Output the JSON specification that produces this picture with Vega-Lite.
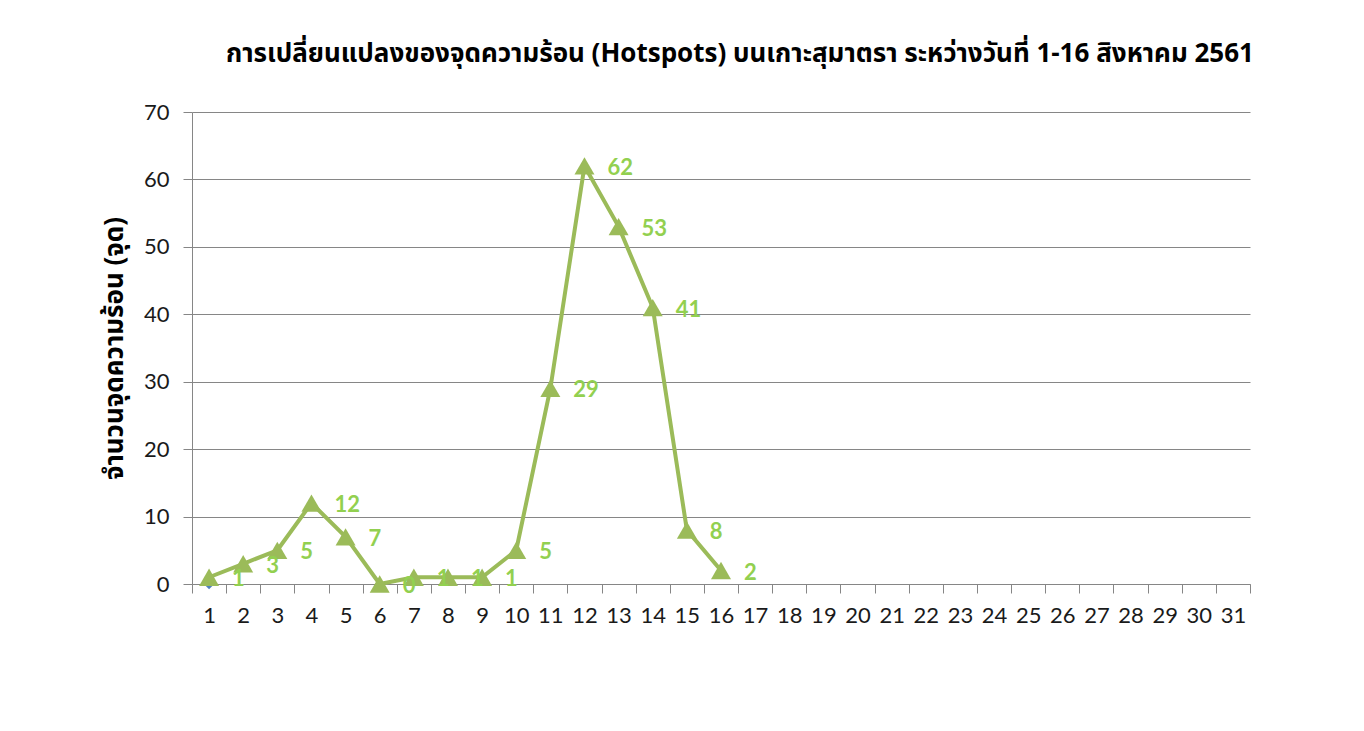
{
  "$schema": "https://vega.github.io/schema/vega-lite/v6.json",
  "width": 1058,
  "height": 472,
  "autosize": {"type": "none"},
  "padding": {"left": 192, "top": 112, "right": 114, "bottom": 147},
  "background": "white",
  "title": {
    "text": "การเปลี่ยนแปลงของจุดความร้อน (Hotspots) บนเกาะสุมาตรา ระหว่างวันที่ 1-16 สิงหาคม 2561",
    "anchor": "middle",
    "dx": 19,
    "offset": 34,
    "fontSize": 26,
    "fontWeight": "bold",
    "font": "Noto Sans Thai, Lato, sans-serif",
    "color": "#000000"
  },
  "data": {
    "values": [
      {"day": 1, "value": 1, "series": "hotspots"},
      {"day": 2, "value": 3, "series": "hotspots"},
      {"day": 3, "value": 5, "series": "hotspots"},
      {"day": 4, "value": 12, "series": "hotspots"},
      {"day": 5, "value": 7, "series": "hotspots"},
      {"day": 6, "value": 0, "series": "hotspots"},
      {"day": 7, "value": 1, "series": "hotspots"},
      {"day": 8, "value": 1, "series": "hotspots"},
      {"day": 9, "value": 1, "series": "hotspots"},
      {"day": 10, "value": 5, "series": "hotspots"},
      {"day": 11, "value": 29, "series": "hotspots"},
      {"day": 12, "value": 62, "series": "hotspots"},
      {"day": 13, "value": 53, "series": "hotspots"},
      {"day": 14, "value": 41, "series": "hotspots"},
      {"day": 15, "value": 8, "series": "hotspots"},
      {"day": 16, "value": 2, "series": "hotspots"},
      {"day": 1, "value": 0, "series": "other"}
    ]
  },
  "encoding": {
    "x": {
      "field": "day",
      "type": "ordinal",
      "scale": {"domain": [1,2,3,4,5,6,7,8,9,10,11,12,13,14,15,16,17,18,19,20,21,22,23,24,25,26,27,28,29,30,31], "paddingInner": 0, "paddingOuter": 0},
      "axis": {
        "title": null,
        "labelAngle": 0,
        "tickBand": "extent",
        "grid": false,
        "domainColor": "#868686",
        "tickColor": "#868686",
        "tickSize": 9,
        "labelFontSize": 22,
        "labelFont": "Lato",
        "labelColor": "#1a1a1a",
        "labelPadding": 12
      }
    },
    "y": {
      "field": "value",
      "type": "quantitative",
      "scale": {"domain": [0, 70], "nice": false},
      "axis": {
        "title": "จำนวนจุดความร้อน (จุด)",
        "titleFontSize": 26,
        "titleFontWeight": "bold",
        "titleFont": "Noto Sans Thai, Lato, sans-serif",
        "titleColor": "#000000",
        "titlePadding": 16,
        "values": [0,10,20,30,40,50,60,70],
        "grid": true,
        "gridColor": "#868686",
        "domainColor": "#868686",
        "tickColor": "#868686",
        "tickSize": 9,
        "labelFontSize": 22,
        "labelFont": "Lato",
        "labelColor": "#1a1a1a",
        "labelPadding": 14
      }
    }
  },
  "layer": [
    {
      "transform": [{"filter": "datum.series == 'other'"}],
      "mark": {"type": "point", "shape": "diamond", "filled": true, "size": 110, "color": "#4f81bd", "opacity": 1}
    },
    {
      "transform": [{"filter": "datum.series == 'hotspots'"}],
      "mark": {"type": "line", "color": "#9bbb59", "strokeWidth": 4}
    },
    {
      "transform": [{"filter": "datum.series == 'hotspots'"}],
      "mark": {"type": "point", "shape": "triangle-up", "filled": true, "size": 400, "color": "#9bbb59", "opacity": 1}
    },
    {
      "transform": [{"filter": "datum.series == 'hotspots'"}],
      "mark": {"type": "text", "align": "left", "baseline": "middle", "dx": 23, "dy": 2, "fontSize": 22, "fontWeight": "bold", "font": "Lato", "color": "#92d050"},
      "encoding": {"text": {"field": "value", "type": "quantitative"}}
    }
  ],
  "config": {
    "view": {"stroke": null}
  }
}
